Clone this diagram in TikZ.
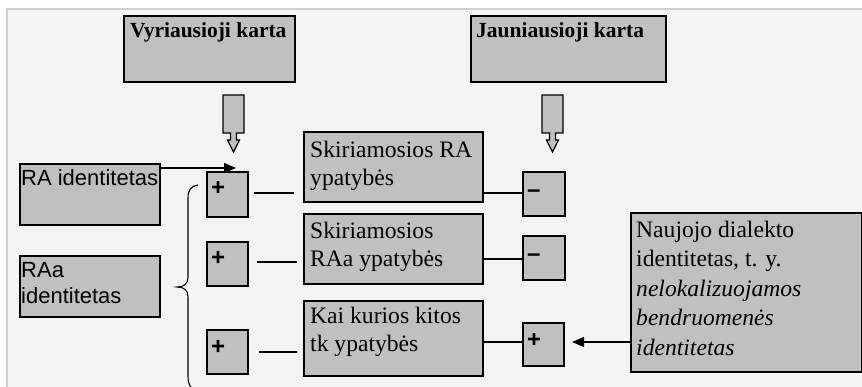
\documentclass[tikz,border=0pt]{standalone}
\usepackage{fontspec}
\setmainfont{Liberation Serif}
\setsansfont{Liberation Sans}
\usetikzlibrary{calc,arrows.meta}
\definecolor{boxgray}{HTML}{C0C0C0}
\definecolor{bggray}{HTML}{F4F4F4}
\definecolor{edgegray}{HTML}{D0D0D0}
\newcommand{\firstbase}[1]{\rule{0pt}{#1pt}}
\tikzset{
  box/.style={draw=black, fill=boxgray, line width=1.2pt, rectangle, inner sep=0pt, outer sep=0pt, anchor=north west},
  txt/.style={anchor=north west, inner sep=0pt, align=left, font=\fontsize{23.6}{28.5}\selectfont},
  stxt/.style={anchor=north west, inner sep=0pt, align=left, font=\sffamily\fontsize{22}{26}\selectfont},
  ttl/.style={anchor=base west, inner sep=0pt, font=\bfseries\fontsize{21.5}{25}\selectfont},
  sign/.style={anchor=base west, inner sep=0pt, font=\sffamily\bfseries\fontsize{24}{26}\selectfont},
  conn/.style={line width=1.1pt},
  hollow/.style={draw=black, fill=boxgray, line width=1.2pt, line join=miter},
  tip/.style={-{Triangle[length=12pt,width=10pt]}}
}
\begin{document}
\begin{tikzpicture}[x=1pt,y=-1pt]
\useasboundingbox (0,0) rectangle (862,387);
\fill[white] (0,0) rectangle (862,387);
\fill[bggray] (7,9) rectangle (862,387);
\draw[edgegray, line width=1.5pt] (7,387) -- (7,9) -- (862,9);
\begin{scope}
\clip (0,0) rectangle (862,387);
% title boxes
\node[box, minimum width=171pt, minimum height=66pt] (V) at (124,16) {};
\node[ttl] at ($(V.north west)+(6,22)$) {Vyriausioji karta};
\node[box, minimum width=195pt, minimum height=66pt] (J) at (471,16) {};
\node[ttl] at ($(J.north west)+(5,22)$) {Jauniausioji karta};
% hollow arrows
\draw[hollow, shift={(233.5,95)}] (-10.5,0) -- (10.5,0) -- (10.5,38) -- (3,38) -- (3,45) -- (6,45) -- (0,57) -- (-6,45) -- (-3,45) -- (-3,38) -- (-10.5,38) -- cycle;
\draw[hollow, shift={(552.5,95)}] (-10.5,0) -- (10.5,0) -- (10.5,38) -- (3,38) -- (3,45) -- (6,45) -- (0,57) -- (-6,45) -- (-3,45) -- (-3,38) -- (-10.5,38) -- cycle;
% left boxes
\node[box, minimum width=140pt, minimum height=61pt] (RAid) at (20,164) {};
\node[stxt] at ($(RAid.north west)+(1,0)$) {\firstbase{21}RA identitetas};
\node[box, minimum width=140pt, minimum height=61pt] (RAaid) at (20,256) {};
\node[stxt] at ($(RAaid.north west)+(1,0)$) {\firstbase{21}RAa\\identitetas};
% middle boxes
\node[box, minimum width=179pt, minimum height=70pt] (SRA) at (304,132) {};
\node[txt] at ($(SRA.north west)+(6,0)$) {\firstbase{25}Skiriamosios RA\\ypatybės};
\node[box, minimum width=179pt, minimum height=70pt] (SRAa) at (304,214) {};
\node[txt] at ($(SRAa.north west)+(6,0)$) {\firstbase{24}Skiriamosios\\RAa ypatybės};
\node[box, minimum width=179pt, minimum height=75pt] (Kai) at (304,301) {};
\node[txt] at ($(Kai.north west)+(6,0)$) {\firstbase{22}Kai kurios kitos\\tk ypatybės};
% right box
\node[box, minimum width=231pt, minimum height=159pt] (Nau) at (631,213) {};
\node[txt, font=\fontsize{23.6}{29.5}\selectfont] at ($(Nau.north west)+(5,0)$) {\firstbase{24}Naujojo dialekto\\identitetas, t. y.\\\textit{nelokalizuojamos}\\\textit{bendruomenės}\\\textit{identitetas}};
% sign boxes
\node[box, minimum width=41pt, minimum height=45pt] (p1) at (207,172) {};
\node[sign] at ($(p1.north west)+(4,24)$) {+};
\node[box, minimum width=41pt, minimum height=44pt] (p2) at (207,242) {};
\node[sign] at ($(p2.north west)+(4,24)$) {+};
\node[box, minimum width=41pt, minimum height=44pt] (p3) at (207,330) {};
\node[sign] at ($(p3.north west)+(4,24)$) {+};
\node[box, minimum width=42pt, minimum height=44pt] (m1) at (523,172) {};
\node[sign] at ($(m1.north west)+(4,25.5)$) {–};
\node[box, minimum width=42pt, minimum height=44pt] (m2) at (523,236) {};
\node[sign] at ($(m2.north west)+(4,25.5)$) {–};
\node[box, minimum width=41pt, minimum height=43pt] (p4) at (523,323) {};
\node[sign] at ($(p4.north west)+(4,24)$) {+};
% free dashes between sign boxes and text boxes
\coordinate (d1a) at ($(p1.east)+(6,-1.5)$);
\coordinate (d1b) at (d1a -| SRA.west);
\draw[conn] (d1a) -- ($(d1b)+(-10,0)$);
\coordinate (d2a) at ($(p2.east)+(9,-2)$);
\coordinate (d2b) at (d2a -| SRAa.west);
\draw[conn] (d2a) -- ($(d2b)+(-7,0)$);
\coordinate (d3a) at ($(p3.east)+(11,0)$);
\coordinate (d3b) at (d3a -| Kai.west);
\draw[conn] (d3a) -- ($(d3b)+(-7,0)$);
% connectors to right sign boxes
\draw[conn] ($(m1.west)+(0,-1)$) -- ($(m1.west -| SRA.east)+(0,-1)$);
\draw[conn] ($(m2.west)+(0,1)$) -- ($(m2.west -| SRAa.east)+(0,1)$);
\draw[conn] ($(p4.west)+(0,-2.5)$) -- ($(p4.west -| Kai.east)+(0,-2.5)$);
% arrows
\coordinate (a1s) at ($(RAid.north east)+(0,4)$);
\draw[conn, tip] (a1s) -- ($(a1s)+(76,0)$);
\coordinate (a2s) at ($(Nau.west |- p4.east)+(0,-2.5)$);
\draw[conn, tip] (a2s) -- ($(p4.east)+(8,-2.5)$);
% brace
\draw[conn] (198,185) .. controls (191,186) and (188,190) .. (188,198) -- (188,277) .. controls (188,284) and (184,287) .. (177,287) .. controls (184,287) and (188,290) .. (188,297) -- (188,376) .. controls (188,384) and (190,388) .. (196,392);
\end{scope}
\end{tikzpicture}
\end{document}
